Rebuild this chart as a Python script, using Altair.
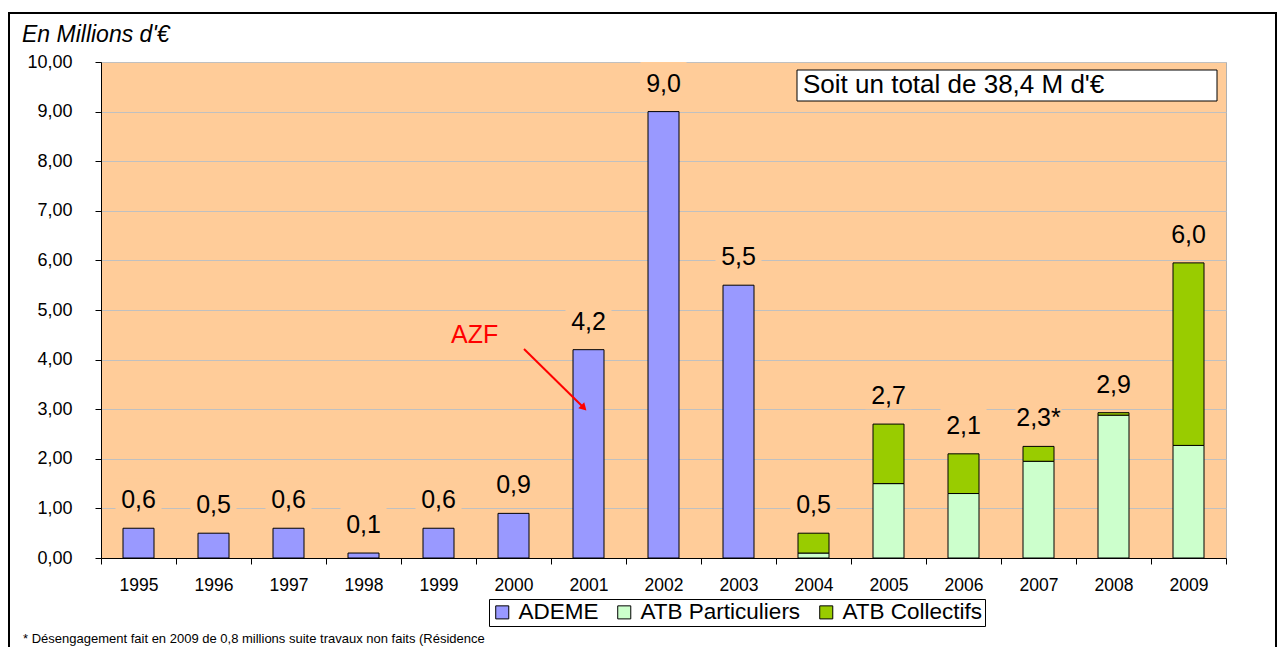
import altair as alt
import pandas as pd

# ---- data ----
years = [str(y) for y in range(1995, 2010)]
ademe = [0.6, 0.5, 0.6, 0.1, 0.6, 0.9, 4.2, 9.0, 5.5, 0, 0, 0, 0, 0, 0]
particuliers = [0, 0, 0, 0, 0, 0, 0, 0, 0, 0.1, 1.5, 1.3, 1.95, 2.88, 2.27]
collectifs = [0, 0, 0, 0, 0, 0, 0, 0, 0, 0.4, 1.2, 0.8, 0.3, 0.05, 3.68]
value_labels = ["0,6", "0,5", "0,6", "0,1", "0,6", "0,9", "4,2", "9,0", "5,5",
                "0,5", "2,7", "2,1", "2,3*", "2,9", "6,0"]
series_names = ["ADEME", "ATB Particuliers", "ATB Collectifs"]
series_colors = ["#9999FF", "#CCFFCC", "#99CC00"]

title_text = "En Millions d'€"
total_text = "Soit un total de 38,4 M d'€"
annot_text = "AZF"
footnote_text = "* Désengagement fait en 2009 de  0,8 millions suite travaux non faits (Résidence"

FONT = "Liberation Sans"
PEACH = "#FFCC99"
W, H = 1125, 496

rows = []
for i, yr in enumerate(years):
    for k, (name, vals) in enumerate(zip(series_names, [ademe, particuliers, collectifs])):
        if vals[i] > 0:
            rows.append({"year": yr, "series": name, "value": vals[i], "order": k})
bars_df = pd.DataFrame(rows)
totals_df = pd.DataFrame({
    "year": years,
    "total": [a + p + c for a, p, c in zip(ademe, particuliers, collectifs)],
    "label": value_labels,
})

x_axis = alt.Axis(title=None, labelAngle=0, tickBand="extent", grid=False,
                  domainColor="black", tickColor="black", tickSize=6,
                  labelFontSize=17.5, labelPadding=12, labelColor="black", labelFont=FONT)
x_scale = alt.Scale(domain=years, paddingInner=0, paddingOuter=0)
y_axis = alt.Axis(title=None, values=list(range(0, 11)), grid=True, gridColor="#C0C0C0",
                  domainColor="black", tickColor="black", tickSize=6, labelPadding=23,
                  labelFontSize=18, labelColor="black", labelFont=FONT,
                  labelExpr="replace(format(datum.value, '.2f'), '.', ',')")
y_scale = alt.Scale(domain=[0, 10], nice=False, zero=True)


def xenc():
    return alt.X("year:N", sort=years, scale=x_scale, axis=x_axis)


one = lambda t: pd.DataFrame({"t": [t]})

frame = alt.Chart(one("")).mark_rect(fillOpacity=0, stroke="black", strokeWidth=2).encode(
    x=alt.value(-92), x2=alt.value(1175), y=alt.value(-49), y2=alt.value(640))

title = alt.Chart(one(title_text)).mark_text(
    font=FONT, fontSize=23, fontStyle="italic", align="left", baseline="alphabetic", color="black"
).encode(x=alt.value(-79), y=alt.value(-20), text="t:N")

footnote = alt.Chart(one(footnote_text)).mark_text(
    font=FONT, fontSize=13, align="left", baseline="alphabetic", color="black"
).encode(x=alt.value(-78), y=alt.value(581), text="t:N")

label_bg = alt.Chart(totals_df).transform_calculate(
    lo="datum.total + 0.3", hi="datum.total + 1.0"
).mark_bar(size=46, color=PEACH).encode(
    x=xenc(), y=alt.Y("lo:Q", scale=y_scale, axis=y_axis), y2="hi:Q")

bars = alt.Chart(bars_df).mark_bar(size=31, stroke="black", strokeWidth=1).encode(
    x=xenc(),
    y=alt.Y("value:Q", stack="zero", scale=y_scale, axis=y_axis),
    color=alt.Color("series:N", scale=alt.Scale(domain=series_names, range=series_colors),
                    legend=alt.Legend(orient="none", legendX=388, legendY=537,
                                      direction="horizontal", title=None,
                                      labelFontSize=22.5, labelFont=FONT, labelColor="black",
                                      symbolType="square", symbolSize=170,
                                      symbolStrokeColor="black", symbolStrokeWidth=1,
                                      strokeColor="black", fillColor="white",
                                      padding=2, columnPadding=14, labelOffset=5)),
    order=alt.Order("order:Q"),
)

labels = alt.Chart(totals_df).mark_text(
    dy=-20, fontSize=25, font=FONT, baseline="alphabetic", align="center", color="black"
).encode(x=xenc(), y=alt.Y("total:Q", scale=y_scale, axis=y_axis), text="label:N")

total_box = alt.Chart(one("")).mark_rect(fill="white", stroke="black", strokeWidth=1).encode(
    x=alt.value(696), x2=alt.value(1116), y=alt.value(8), y2=alt.value(39))
total_lbl = alt.Chart(one(total_text)).mark_text(
    font=FONT, fontSize=26, align="left", baseline="alphabetic", color="black"
).encode(x=alt.value(702), y=alt.value(31), text="t:N")

azf = alt.Chart(one(annot_text)).mark_text(
    font=FONT, fontSize=25, align="left", baseline="alphabetic", color="#FF0000"
).encode(x=alt.value(350), y=alt.value(281), text="t:N")
arrow = alt.Chart(one("")).mark_rule(color="#FF0000", strokeWidth=2).encode(
    x=alt.value(423), y=alt.value(287), x2=alt.value(481), y2=alt.value(344))
head = alt.Chart(one("")).mark_point(shape="triangle", filled=True, color="#FF0000",
                                     size=70, angle=135, opacity=1).encode(
    x=alt.value(482), y=alt.value(345))

chart = alt.layer(
    frame, title, footnote, label_bg, bars, labels, total_box, total_lbl, azf, arrow, head
).properties(
    width=W, height=H, autosize="none",
    padding={"left": 93, "top": 54, "right": 51, "bottom": 89},
).configure_view(fill=PEACH, stroke="#B0B0B0")

chart.save("out.html", embed_options={"renderer": "svg", "actions": False})
